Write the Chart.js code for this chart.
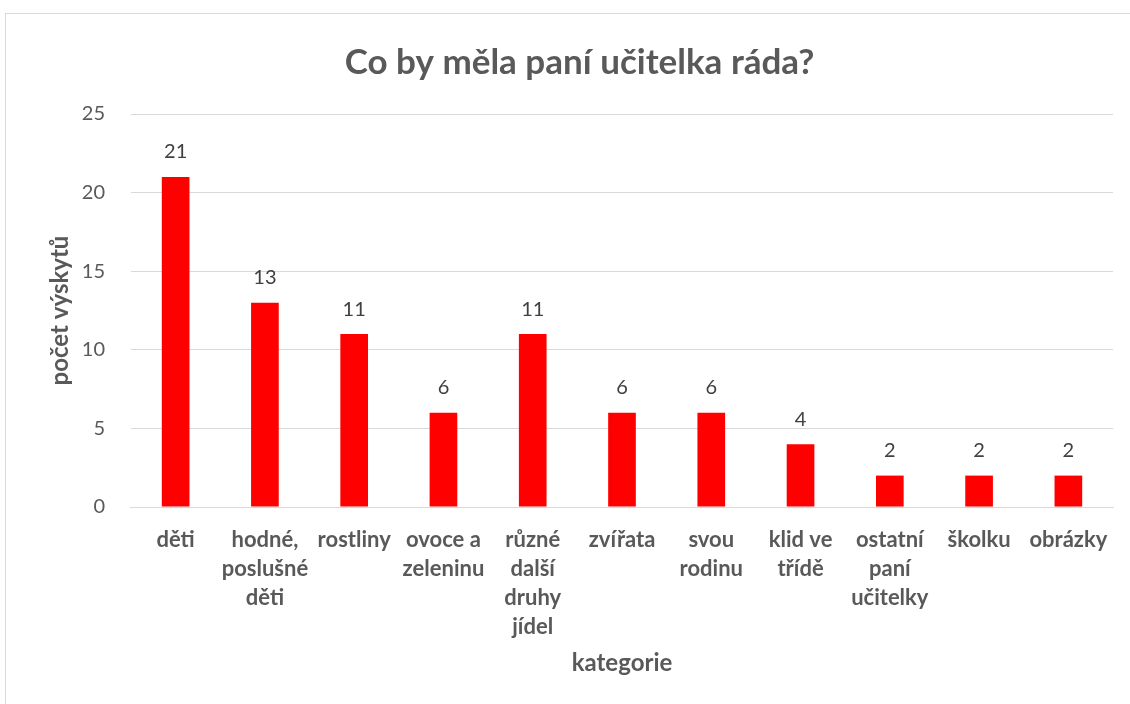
<!DOCTYPE html>
<html>
<head>
<meta charset="utf-8">
<script src="https://cdn.jsdelivr.net/npm/chart.js@4/dist/chart.umd.min.js"></script>
<style>
  body { margin: 0; background: #fff; }
  .frame { position: absolute; left: 5px; top: 13px; width: 1140px; height: 720px; border: 1px solid #d9d9d9; }
  .wrap { position: absolute; left: 0; top: 0; width: 1130px; height: 704px; }
</style>
</head>
<body>
<div class="frame"></div>
<div class="wrap"><canvas id="chart"></canvas></div>
<script>
const categories = [
    ['děti'],
    ['hodné,', 'poslušné', 'děti'],
    ['rostliny'],
    ['ovoce a', 'zeleninu'],
    ['různé', 'další', 'druhy', 'jídel'],
    ['zvířata'],
    ['svou', 'rodinu'],
    ['klid ve', 'třídě'],
    ['ostatní', 'paní', 'učitelky'],
    ['školku'],
    ['obrázky']
];
const counts = [21, 13, 11, 6, 11, 6, 6, 4, 2, 2, 2];

const fontFamily = 'Lato, "Noto Sans", sans-serif';
const textColor = '#595959';

// labels above the bars
const valueLabels = {
    id: 'valueLabels',
    afterDatasetsDraw(chart) {
        const ctx = chart.ctx;
        const meta = chart.getDatasetMeta(0);
        ctx.save();
        ctx.font = '20px ' + fontFamily;
        ctx.fillStyle = '#404040';
        ctx.textAlign = 'center';
        ctx.textBaseline = 'middle';
        meta.data.forEach((bar, i) => {
            ctx.fillText(counts[i], bar.x, bar.y - 25);
        });
        ctx.restore();
    }
};

new Chart(document.getElementById('chart'), {
    type: 'bar',
    data: {
        labels: categories,
        datasets: [{
            data: counts,
            backgroundColor: '#ff0000',
            barPercentage: 0.31,
            categoryPercentage: 1
        }]
    },
    options: {
        responsive: true,
        maintainAspectRatio: false,
        animation: false,
        layout: {
            padding: { left: 46, right: 17, top: 0, bottom: 26 }
        },
        plugins: {
            legend: { display: false },
            tooltip: { enabled: false },
            title: {
                display: true,
                text: 'Co by měla paní učitelka ráda?',
                color: textColor,
                font: { family: fontFamily, size: 35, weight: 'bold' },
                padding: { top: 42, bottom: 30 }
            }
        },
        scales: {
            x: {
                grid: { display: false },
                border: { color: '#d9d9d9' },
                ticks: {
                    color: textColor,
                    font: { family: fontFamily, size: 22, weight: 'bold', lineHeight: 1.32 },
                    maxRotation: 0,
                    autoSkip: false,
                    padding: 10
                },
                title: {
                    display: true,
                    text: 'kategorie',
                    color: textColor,
                    font: { family: fontFamily, size: 24, weight: 'bold' },
                    padding: { top: -2, bottom: 0 }
                }
            },
            y: {
                min: 0,
                max: 25,
                ticks: {
                    stepSize: 5,
                    color: textColor,
                    font: { family: fontFamily, size: 20 },
                    padding: 26
                },
                grid: { color: '#d9d9d9', drawTicks: false },
                border: { display: false },
                title: {
                    display: true,
                    text: 'počet výskytů',
                    color: textColor,
                    font: { family: fontFamily, size: 24, weight: 'bold' },
                    padding: { top: 0, bottom: -19 }
                }
            }
        }
    },
    plugins: [valueLabels]
});
</script>
</body>
</html>
